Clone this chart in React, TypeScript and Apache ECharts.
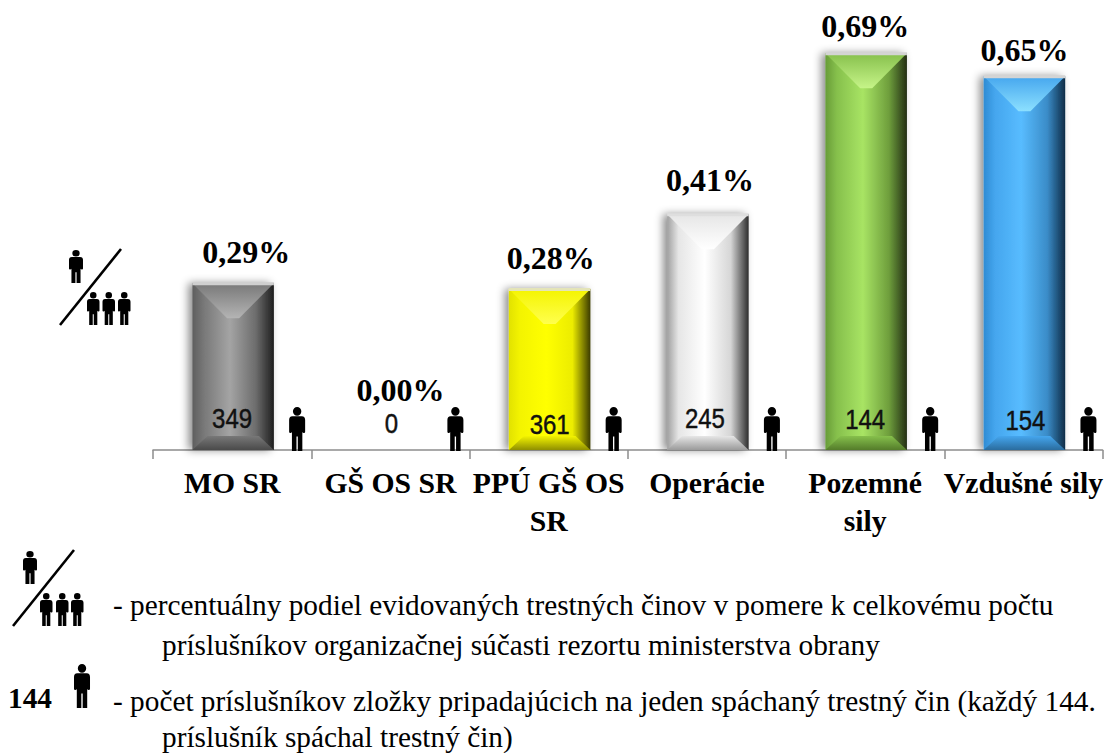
import React, { useEffect, useRef } from "react";
import * as echarts from "echarts";

const categories = ["MO SR", "GŠ OS SR", "PPÚ GŠ OS\nSR", "Operácie", "Pozemné\nsily", "Vzdušné sily"];
const shares = [0.29, 0, 0.28, 0.41, 0.69, 0.65];
const shareLabels = ["0,29%", "0,00%", "0,28%", "0,41%", "0,69%", "0,65%"];
const perOffender = [349, 0, 361, 245, 144, 154];

// Bar tones: left edge, body left, centre, body right, right edge, bevel tip, base shade, top edge
const tones = [
  ["#5e5e5e", "#787878", "#a4a4a4", "#6c6c6c", "#1e1e1e", "#b4b4b4", "#4a4a4a", "#cfcfcf"],
  ["#5e5e5e", "#787878", "#a4a4a4", "#6c6c6c", "#1e1e1e", "#b4b4b4", "#4a4a4a", "#cfcfcf"],
  ["#e2e200", "#f4f400", "#ffff00", "#ecec00", "#3c3c00", "#ffff4d", "#8f8f00", "#e4e4b8"],
  ["#a0a0a0", "#e6e6e6", "#ffffff", "#d6d6d6", "#2e2e2e", "#ffffff", "#9a9a9a", "#dedede"],
  ["#689c38", "#86c04c", "#a8e464", "#6e9e3c", "#232f14", "#c6f488", "#547c2a", "#d4d4d4"],
  ["#2f8cd4", "#45a6ee", "#58bcff", "#3a8cc8", "#0e2c46", "#8ce0ff", "#2a6c9e", "#d4d4d4"],
];
const labelShift = [[13, -31], [9, -60], [1, -31], [2, -34], [-1, -27], [0, -26]];
const countShift = [-32, -27, -26, -32, -31, -30];
const countDx = [-1, 0, 0, -3, -1, 1];

const PERSON =
  "M12 0a6.3 6.3 0 1 1 0 12.6a6.3 6.3 0 1 1 0-12.6z" +
  "M5 13.5H19C22.5 13.5 24 15.5 24 19V36C24 38.5 20.5 38.5 19.8 36.5V64H13V43H11V64H4.2V36.5C3.5 38.5 0 38.5 0 36V19C0 15.5 1.5 13.5 5 13.5z";
echarts.graphic.registerShape("person", (echarts.graphic as any).extendPath(PERSON, {}));

const SERIF = '"Liberation Serif", serif';
const personAt = (x: number, y: number, w: number, h: number) => ({
  type: "person",
  x,
  y,
  scaleX: w / 24,
  scaleY: h / 64,
  silent: true,
  style: { fill: "#000" },
});
const legendText = (text: string, x: number, y: number, bold = false) => ({
  type: "text",
  x,
  y,
  style: {
    text,
    fill: "#000",
    font: `${bold ? "bold " : ""}29.3px ${SERIF}`,
    textVerticalAlign: "middle",
    verticalAlign: "middle",
  },
});
const fraction = (px: number, py: number, lx0: number, ly0: number, lx1: number, ly1: number, trioX: number[], trioY: number) => [
  personAt(px, py, 14, 33),
  {
    type: "line",
    shape: { x1: lx0, y1: ly0, x2: lx1, y2: ly1 },
    style: { stroke: "#000", lineWidth: 2.6 },
  },
  ...trioX.map((x) => personAt(x, trioY, 12.5, 33)),
];

const renderBar = (params: any, api: any) => {
  const i = api.value(0);
  const v = api.value(1);
  const [coordX, top] = api.coord([i, v]);
  const cx = coordX + 1;
  const [, base] = api.coord([i, 0]);
  const w = api.size([1, 0])[0] * 0.515;
  const l = cx - w / 2;
  const r = cx + w / 2;
  const t = tones[i];
  const kids: any[] = [];
  if (v > 0) {
    const h = (stops: [number, string][]) => ({
      type: "linear", x: 0, y: 0, x2: 1, y2: 0,
      colorStops: stops.map(([offset, color]) => ({ offset, color })),
    });
    const vert = (a: string, b: string) => ({
      type: "linear", x: 0, y: 0, x2: 0, y2: 1,
      colorStops: [{ offset: 0, color: a }, { offset: 1, color: b }],
    });
    kids.push({
      type: "rect",
      shape: { x: l, y: top, width: w, height: base - top },
      style: {
        fill: h([[0, t[0]], [0.14, t[1]], [0.46, t[2]], [0.78, t[3]], [1, t[4]]]),
        shadowBlur: 8,
        shadowOffsetX: -4,
        shadowColor: "rgba(0,0,0,0.45)",
      },
    });
    kids.push({
      type: "polygon",
      shape: { points: [[l, top], [r, top], [cx + 6, top + 35], [cx - 6, top + 35]] },
      style: { fill: vert(t[1], t[5]) },
    });
    kids.push({
      type: "polygon",
      shape: { points: [[l, base], [r, base], [r - 15, base - 14], [l + 15, base - 14]] },
      style: { fill: vert(t[1], t[6]) },
    });
    kids.push({
      type: "rect",
      shape: { x: l, y: top - 1, width: w, height: 3 },
      style: { fill: t[7] },
    });
  }
  kids.push(personAt(cx + 56, base - 43, 16, 44));
  kids.push({
    type: "text",
    x: cx + countDx[i],
    y: base + countShift[i],
    scaleY: 1.15,
    style: {
      text: String(perOffender[i]),
      fill: "#111",
      stroke: "#111",
      lineWidth: 0.4,
      font: '24px "Liberation Sans", sans-serif',
      textAlign: "center",
      textVerticalAlign: "middle",
      verticalAlign: "middle",
    },
  });
  kids.push({
    type: "text",
    x: cx + labelShift[i][0],
    y: top + labelShift[i][1],
    style: {
      text: shareLabels[i],
      fill: "#000",
      font: `bold 32px ${SERIF}`,
      textAlign: "center",
      textVerticalAlign: "middle",
      verticalAlign: "middle",
    },
  });
  return { type: "group", children: kids };
};

export default function App() {
  const ref = useRef<HTMLDivElement>(null);
  useEffect(() => {
    document.body.style.margin = "0";
    const chart = echarts.init(ref.current!, undefined, { renderer: "svg" });
    chart.setOption({
      animation: false,
      backgroundColor: "#fff",
      grid: { left: 153, right: 3, top: 1.5, bottom: 303 },
      xAxis: {
        type: "category",
        data: categories,
        axisLine: { lineStyle: { color: "#8c8c8c", width: 1.5 } },
        axisTick: { show: true, alignWithLabel: false, interval: 0, length: 9, lineStyle: { color: "#8c8c8c", width: 1.5 } },
        axisLabel: {
          interval: 0,
          margin: 14,
          color: "#000",
          fontFamily: SERIF,
          fontWeight: "bold",
          fontSize: 29.7,
          lineHeight: 38,
        },
      },
      yAxis: { type: "value", min: 0, max: 0.78, show: false },
      series: [
        {
          type: "custom",
          renderItem: renderBar,
          encode: { x: 0, y: 1 },
          data: shares.map((v, i) => [i, v]),
          clip: false,
        },
      ],
      graphic: [
        ...fraction(69, 250, 60, 325, 121, 249, [87, 102.5, 118], 292),
        ...fraction(23, 551, 13, 626, 74, 550, [40, 56, 71], 593),
        personAt(74, 664, 16, 44),
        legendText("- percentuálny podiel evidovaných trestných činov v pomere k celkovému počtu", 113, 605),
        legendText("príslušníkov organizačnej súčasti rezortu ministerstva obrany", 162, 645),
        legendText("144", 8, 698, true),
        legendText("- počet príslušníkov zložky pripadajúcich na jeden spáchaný trestný čin (každý 144.", 113, 701),
        legendText("príslušník spáchal trestný čin)", 162, 737),
      ],
    });
    return () => chart.dispose();
  }, []);
  return <div ref={ref} style={{ width: 1106, height: 753 }} />;
}
